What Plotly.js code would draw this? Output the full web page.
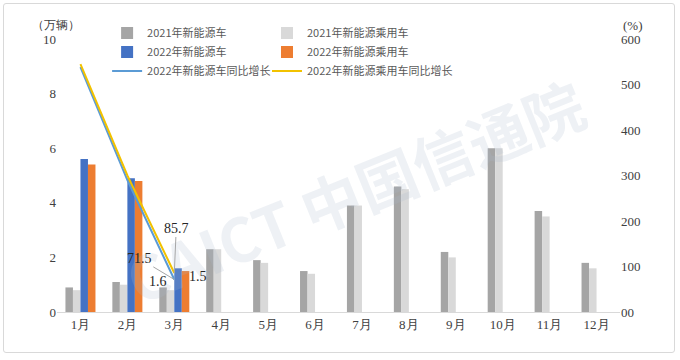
<!DOCTYPE html>
<html>
<head>
<meta charset="utf-8">
<script src="https://cdn.plot.ly/plotly-3.0.1.min.js"></script>
<style>
  html, body { margin: 0; padding: 0; background: #fff; }
  #wrap { position: relative; width: 680px; height: 360px; }
  #chart { width: 680px; height: 360px; }
  #frame { position: absolute; left: 3px; top: 3px; width: 672px; height: 350px;
           border: 1.5px solid #d9d9d9; border-radius: 3px; pointer-events: none; box-sizing: border-box; }
</style>
</head>
<body>
<div id="wrap"><div id="chart"></div><div id="frame"></div></div>
<script>
// ---- data ----
const months = ['1月','2月','3月','4月','5月','6月','7月','8月','9月','10月','11月','12月'];
const nev2021 = [0.9, 1.1, 0.9, 2.3, 1.9, 1.5, 3.9, 4.6, 2.2, 6.0, 3.7, 1.8];
const pv2021  = [0.8, 1.0, 0.8, 2.3, 1.8, 1.4, 3.9, 4.5, 2.0, 6.0, 3.5, 1.6];
const nev2022 = [5.6, 4.9, 1.6, null, null, null, null, null, null, null, null, null];
const pv2022  = [5.4, 4.8, 1.5, null, null, null, null, null, null, null, null, null];
const growthMonths = ['1月','2月','3月'];
const nevGrowth = [538, 290, 71.5];
const pvGrowth  = [545, 300, 85.7];
const leftTicks = [0, 2, 4, 6, 8, 10];
const rightTicks = [0, 100, 200, 300, 400, 500, 600];
const rightTickText = ['00', '100', '200', '300', '400', '500', '600'];

const serif = 'Times New Roman, Liberation Serif, DejaVu Serif, serif';
const sans = 'Noto Sans CJK SC, Noto Sans, sans-serif';

const traces = [
  {type:'bar', name:'2021年新能源车', x:months, y:nev2021, marker:{color:'#a5a5a5'}, legend:'legend'},
  {type:'bar', name:'2021年新能源乘用车', x:months, y:pv2021, marker:{color:'#d9d9d9'}, legend:'legend2'},
  {type:'bar', name:'2022年新能源车', x:months, y:nev2022, marker:{color:'#4472c4'}, legend:'legend'},
  {type:'bar', name:'2022年新能源乘用车', x:months, y:pv2022, marker:{color:'#ed7d31'}, legend:'legend2'},
  {type:'scatter', mode:'lines', name:'2022年新能源车同比增长', x:growthMonths, y:nevGrowth, yaxis:'y2',
   line:{color:'#5b9bd5', width:2}, legend:'legend'},
  {type:'scatter', mode:'lines', name:'2022年新能源乘用车同比增长', x:growthMonths, y:pvGrowth, yaxis:'y2',
   line:{color:'#f2c200', width:2}, legend:'legend2'}
];

const legendCommon = {font:{family:sans, size:11, color:'#595959'}, bgcolor:'rgba(0,0,0,0)',
  yanchor:'top', y:1.075, xanchor:'left', orientation:'v', tracegroupgap:0, itemwidth:30};

const tickFont = {family:serif, size:13, color:'#404040'};

const layout = {
  width:680, height:360,
  font:{family:serif, size:13, color:'#404040'},
  margin:{l:57, r:60, t:39, b:48},
  paper_bgcolor:'#ffffff', plot_bgcolor:'rgba(0,0,0,0)',
  barmode:'group', bargap:0.36, bargroupgap:0,
  showlegend:true,
  legend: Object.assign({x:0.089}, legendCommon),
  legend2: Object.assign({x:0.373}, legendCommon),
  xaxis:{type:'category', categoryorder:'array', categoryarray:months,
    showline:true, linecolor:'#d9d9d9', linewidth:1, ticks:'', showgrid:false, zeroline:false,
    tickfont:tickFont},
  yaxis:{range:[0,10], tickvals:leftTicks, showgrid:false, zeroline:false, showline:false, ticks:'',
    tickfont:tickFont},
  yaxis2:{overlaying:'y', side:'right', range:[0,600], tickvals:rightTicks, ticktext:rightTickText,
    showgrid:false, zeroline:false, showline:false, ticks:'',
    tickfont:tickFont},
  annotations:[
    {xref:'paper', yref:'paper', x:0.529, y:0.447, text:'<b>CAICT 中国信通院</b>', showarrow:false,
     textangle:-22, font:{family:sans, size:60, color:'rgba(170,185,205,0.2)'}},
    {xref:'paper', yref:'paper', x:-0.048, y:1.085, text:'（万辆）', showarrow:false,
     font:{family:serif, size:12, color:'#404040'}},
    {xref:'paper', yref:'paper', x:1.044, y:1.085, text:'(%)', showarrow:false,
     font:{family:serif, size:13, color:'#404040'}},
    {xref:'x', yref:'y', x:months[2], y:nev2022[2], text:String(nev2022[2]), showarrow:false,
     xshift:-16, yshift:-13.5, font:{family:serif, size:14, color:'#262626'}},
    {xref:'x', yref:'y', x:months[2], y:pv2022[2], text:String(pv2022[2]), showarrow:false,
     xshift:24, yshift:-5, font:{family:serif, size:14, color:'#262626'}},
    {xref:'x', yref:'y2', x:growthMonths[2], y:pvGrowth[2], text:String(pvGrowth[2]), showarrow:true,
     arrowhead:0, arrowwidth:1, arrowcolor:'#a6a6a6', ax:2, ay:-45,
     font:{family:serif, size:14, color:'#262626'}},
    {xref:'x', yref:'y2', x:growthMonths[2], y:nevGrowth[2], text:String(nevGrowth[2]), showarrow:true,
     arrowhead:0, arrowwidth:1, arrowcolor:'#a6a6a6', ax:-35, ay:-21,
     font:{family:serif, size:14, color:'#262626'}}
  ]
};

Plotly.newPlot('chart', traces, layout, {displayModeBar:false, staticPlot:true});
</script>
</body>
</html>
